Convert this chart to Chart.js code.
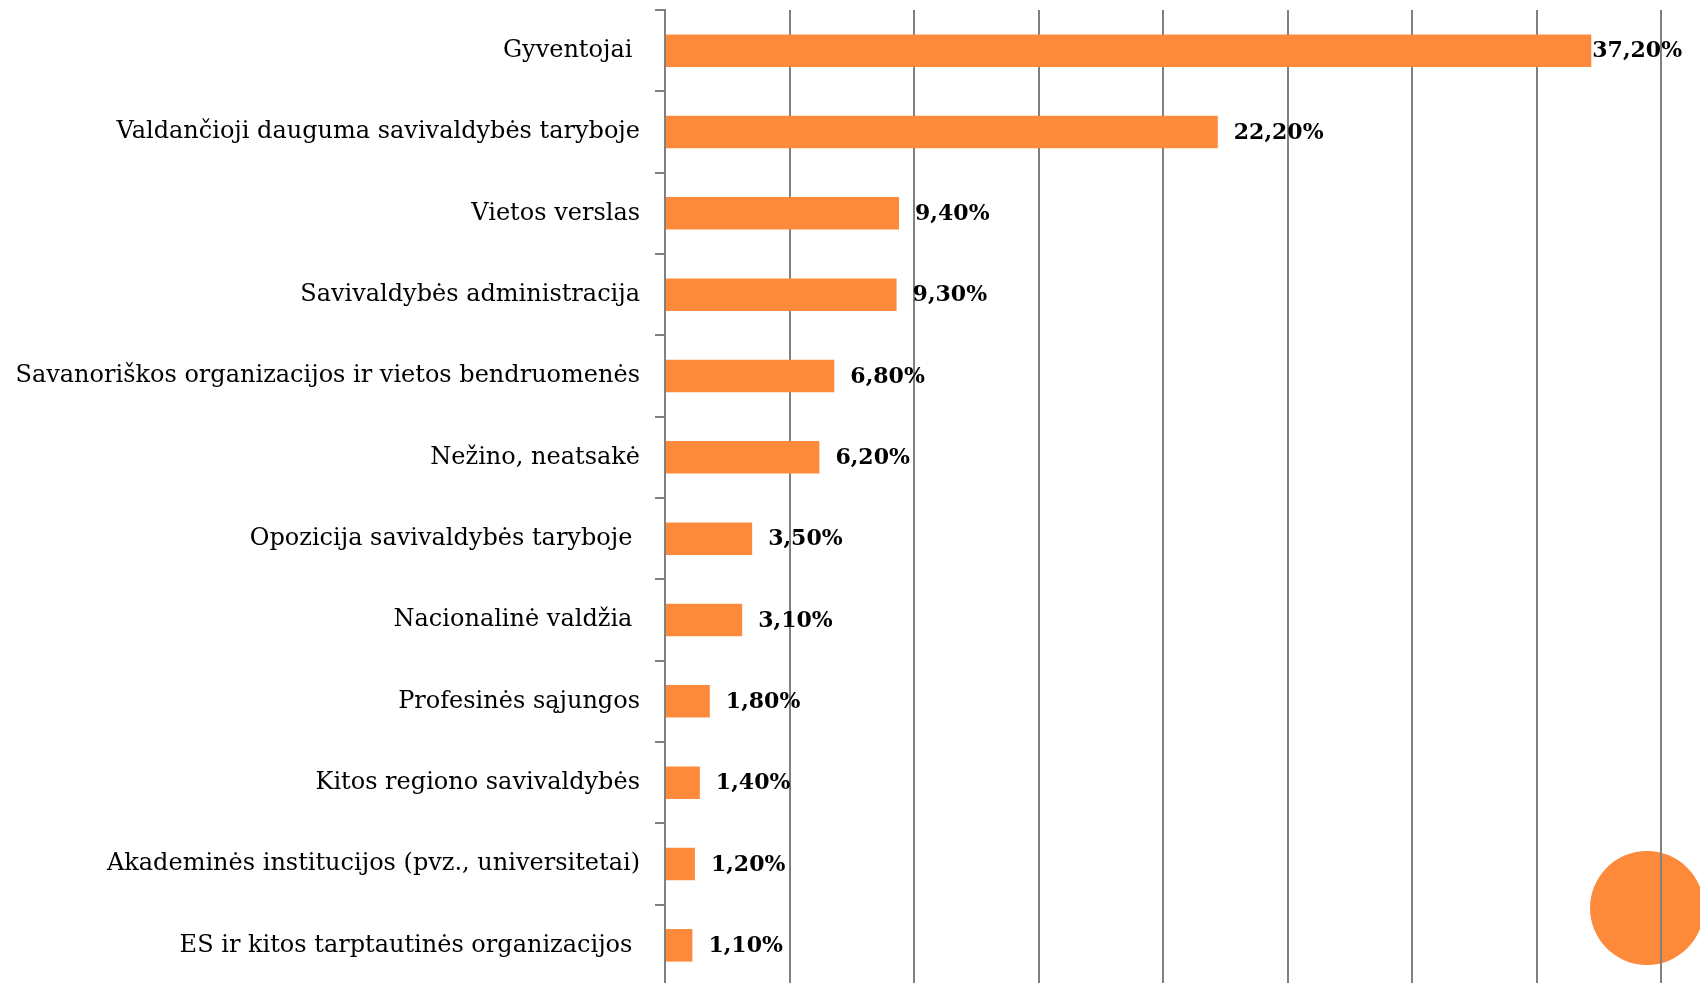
<!DOCTYPE html>
<html lang="lt">
<head>
  <meta charset="UTF-8" />
  <title>Savivaldybės</title>
  <style>
    body { margin: 0; background: #ffffff; overflow: hidden; }
    #wrap { position: relative; width: 1700px; height: 986px; }
  </style>
</head>
<body>
  <div id="wrap"><canvas id="chart"></canvas></div>

  <script src="https://cdn.jsdelivr.net/npm/chart.js"></script>
  <script>
    const categories = [
      'Gyventojai ',
      'Valdančioji dauguma savivaldybės taryboje',
      'Vietos verslas',
      'Savivaldybės administracija',
      'Savanoriškos organizacijos ir vietos bendruomenės',
      'Nežino, neatsakė',
      'Opozicija savivaldybės taryboje ',
      'Nacionalinė valdžia ',
      'Profesinės sąjungos',
      'Kitos regiono savivaldybės',
      'Akademinės institucijos (pvz., universitetai)',
      'ES ir kitos tarptautinės organizacijos '
    ];
    const values = [37.2, 22.2, 9.4, 9.3, 6.8, 6.2, 3.5, 3.1, 1.8, 1.4, 1.2, 1.1];
    const xMax = 40;
    const xStep = 5;

    const orange = '#fd8a3a';
    const gridGrey = '#808080';
    const serif = "'DejaVu Serif', 'Liberation Serif', serif";

    // the orange dot in the lower right corner, sits under the grid lines
    const cornerDot = {
      id: 'cornerDot',
      beforeDraw(chart) {
        const c = chart.ctx;
        c.save();
        c.beginPath();
        c.arc(chart.width - 53, chart.height - 78, 57, 0, Math.PI * 2);
        c.fillStyle = orange;
        c.fill();
        c.restore();
      }
    };

    const valueLabels = {
      id: 'valueLabels',
      afterDatasetsDraw(chart) {
        const c = chart.ctx;
        const meta = chart.getDatasetMeta(0);
        c.save();
        c.font = "bold 22px " + serif;
        c.fillStyle = '#000';
        c.textBaseline = 'middle';
        c.textAlign = 'left';
        meta.data.forEach((bar, i) => {
          const txt = values[i].toFixed(2).replace('.', ',') + '%';
          const w = c.measureText(txt).width;
          let x = bar.x + 16;
          const limit = chart.chartArea.right + 20 - w;
          if (x > limit) x = Math.max(bar.x + 1, limit);
          c.fillText(txt, x, bar.y + 1);
        });
        c.restore();
      }
    };

    function noPad(scale) {
      scale.paddingTop = 0;
      scale.paddingBottom = 0;
      scale.paddingLeft = 0;
      scale.paddingRight = 0;
    }

    new Chart(document.getElementById('chart'), {
      type: 'bar',
      data: {
        labels: categories,
        datasets: [{
          data: values,
          backgroundColor: orange,
          borderWidth: 0,
          categoryPercentage: 1.0,
          barPercentage: 0.4
        }]
      },
      options: {
        indexAxis: 'y',
        responsive: true,
        maintainAspectRatio: false,
        animation: false,
        layout: { padding: { top: 10, right: 39, bottom: 0, left: 0 } },
        plugins: {
          legend: { display: false },
          tooltip: { enabled: false }
        },
        scales: {
          x: {
            min: 0,
            max: xMax,
            afterFit(scale) { scale.height = 0; noPad(scale); },
            ticks: { display: false, stepSize: xStep },
            grid: { color: gridGrey, lineWidth: 2, drawTicks: false },
            border: { display: false }
          },
          y: {
            afterFit(scale) { scale.width = 665; noPad(scale); },
            ticks: {
              color: '#000',
              font: { family: serif, size: 24 },
              padding: 15,
              autoSkip: false
            },
            grid: {
              offset: true,
              drawOnChartArea: false,
              color: gridGrey,
              lineWidth: 2,
              tickLength: 10
            },
            border: { display: true, color: gridGrey, width: 2 }
          }
        }
      },
      plugins: [cornerDot, valueLabels]
    });
  </script>
</body>
</html>
